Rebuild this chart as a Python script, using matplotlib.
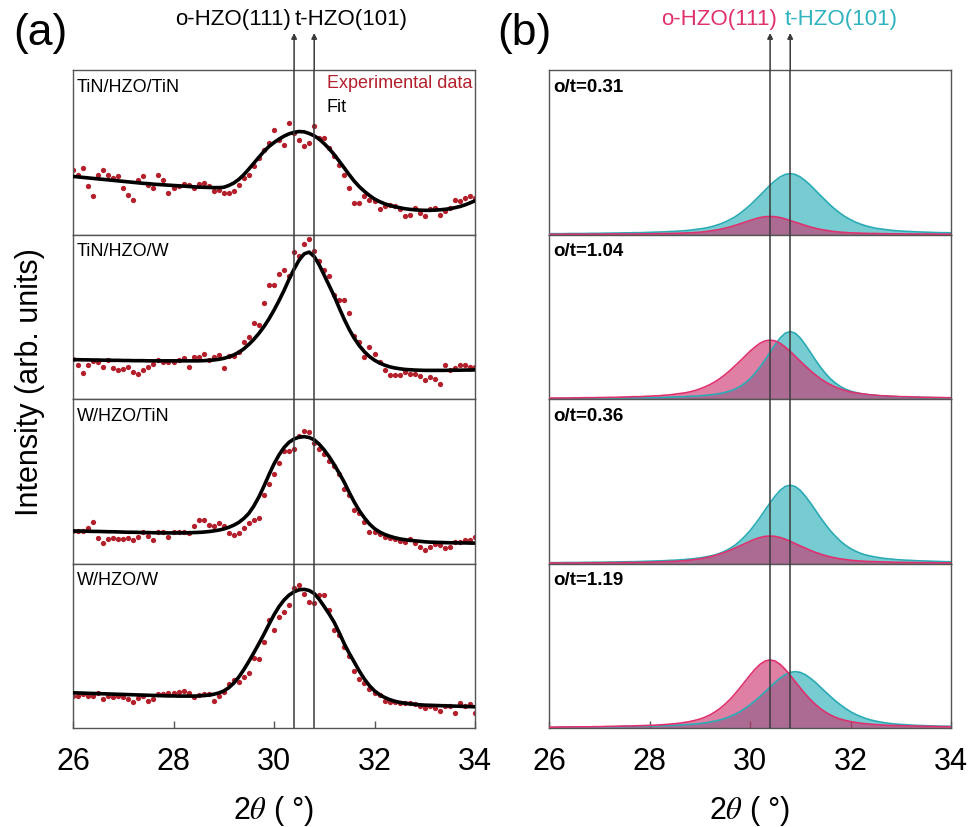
import numpy as np
import matplotlib.pyplot as plt

# scan grid, 26-34 deg in 0.1 deg steps
two_theta = np.round(np.linspace(26.0, 34.0, 81), 1)

samples = ['TiN/HZO/TiN', 'TiN/HZO/W', 'W/HZO/TiN', 'W/HZO/W']
ratio_labels = ['o/t=0.31', 'o/t=1.04', 'o/t=0.36', 'o/t=1.19']
o_peak_pos = 30.4
t_peak_pos = 30.8

# (a) experimental points (fraction of sub-panel height)
exp_tin_tin = [.394, .364, .404, .293, .234, .364, .394, .364, .343, .354,
               .283, .242, .212, .330, .354, .303, .283, .364, .333, .253,
               .283, .293, .309, .303, .283, .309, .313, .293, .263, .273,
               .253, .253, .263, .303, .343, .364, .414, .465, .515, .556,
               .636, .576, .545, .677, .616, .576, .535, .556, .657, .586,
               .586, .525, .475, .424, .364, .283, .192, .192, .232, .212,
               .202, .152, .172, .182, .172, .152, .111, .121, .162, .131,
               .111, .152, .162, .121, .141, .162, .212, .202, .222, .232,
               .222]
exp_tin_w = [.245, .204, .157, .204, .231, .225, .194, .235, .190, .174,
             .184, .194, .163, .153, .178, .194, .210, .235, .225, .225,
             .225, .239, .251, .194, .255, .255, .276, .239, .255, .266,
             .190, .260, .260, .286, .347, .378, .460, .450, .583, .695,
             .695, .757, .787, .747, .894, .869, .940, .971, .900, .838,
             .787, .747, .634, .603, .603, .522, .383, .347, .255, .317,
             .276, .225, .174, .143, .143, .143, .163, .153, .153, .137,
             .116, .133, .123, .092, .204, .178, .190, .204, .204, .194,
             .194]
exp_w_tin = [.198, .198, .198, .214, .251, .153, .123, .149, .157, .149,
             .149, .153, .143, .163, .190, .170, .143, .194, .190, .163,
             .194, .190, .194, .184, .225, .266, .266, .235, .225, .245,
             .225, .184, .174, .184, .214, .245, .266, .276, .419, .484,
             .542, .613, .685, .681, .695, .777, .808, .798, .730, .695,
             .665, .624, .593, .542, .450, .419, .327, .307, .255, .194,
             .194, .178, .163, .153, .147, .137, .133, .149, .123, .102,
             .082, .102, .116, .112, .092, .102, .133, .133, .143, .143,
             .163]
exp_w_w = [.194, .194, .204, .194, .194, .214, .174, .194, .188, .194,
           .190, .174, .157, .184, .194, .163, .178, .204, .204, .214,
           .214, .218, .225, .210, .190, .198, .204, .204, .163, .194,
           .218, .266, .292, .280, .313, .337, .423, .419, .522, .654,
           .593, .675, .706, .747, .849, .869, .812, .767, .757, .808,
           .808, .716, .593, .566, .490, .440, .348, .297, .272, .235,
           .210, .198, .163, .157, .157, .153, .153, .153, .143, .133,
           .123, .133, .123, .102, .133, .133, .092, .153, .133, .143,
           .092]

# (a) fitted curves
fit_tin_tin = [.353, .350, .347, .344, .341, .338, .335, .332, .329, .326,
               .323, .320, .317, .314, .311, .309, .306, .304, .302, .300,
               .298, .296, .294, .292, .290, .288, .287, .286, .285, .285,
               .287, .298, .313, .335, .364, .398, .434, .470, .505, .535,
               .559, .580, .598, .612, .621, .626, .624, .614, .600, .580,
               .552, .521, .485, .445, .404, .362, .323, .290, .262, .237,
               .216, .200, .187, .177, .169, .163, .157, .153, .150, .148,
               .147, .147, .148, .150, .153, .157, .163, .170, .180, .192,
               .205]
fit_tin_w = [.239, .239, .238, .238, .237, .237, .236, .236, .235, .235,
             .234, .234, .233, .233, .233, .232, .232, .232, .232, .232,
             .232, .232, .232, .232, .232, .232, .233, .235, .237, .241,
             .247, .256, .268, .284, .305, .332, .363, .399, .440, .487,
             .540, .598, .660, .728, .790, .845, .882, .893, .866, .815,
             .752, .688, .624, .552, .483, .421, .368, .323, .287, .258,
             .236, .219, .206, .196, .189, .184, .180, .178, .176, .175,
             .174, .174, .174, .174, .174, .175, .175, .175, .176, .176,
             .177]
fit_w_tin = [.198, .197, .197, .196, .195, .195, .194, .193, .193, .192,
             .191, .190, .190, .189, .188, .188, .187, .187, .186, .186,
             .186, .186, .186, .187, .188, .189, .191, .194, .198, .203,
             .210, .220, .233, .250, .274, .305, .350, .405, .470, .540,
             .605, .660, .705, .737, .757, .768, .771, .766, .752, .725,
             .690, .648, .600, .548, .493, .430, .372, .320, .277, .240,
             .212, .192, .177, .166, .157, .150, .145, .141, .138, .135,
             .132, .130, .129, .128, .127, .126, .126, .125, .125, .124,
             .124]
fit_w_w = [.214, .213, .212, .211, .210, .209, .208, .207, .206, .205,
           .204, .203, .202, .201, .200, .199, .198, .197, .196, .195,
           .195, .194, .194, .194, .194, .195, .197, .200, .205, .213,
           .225, .245, .273, .310, .355, .405, .458, .513, .570, .630,
           .688, .738, .778, .808, .828, .840, .843, .836, .818, .782,
           .738, .692, .641, .578, .511, .453, .399, .345, .297, .257,
           .226, .203, .186, .173, .163, .156, .151, .147, .144, .141,
           .139, .138, .137, .136, .135, .134, .133, .132, .131, .130,
           .129]

# (b) deconvoluted o-phase (111) and t-phase (101) components
o_comp_031 = [.001, .001, .001, .002, .002, .002, .002, .002, .002, .002,
              .002, .002, .003, .003, .003, .003, .003, .003, .004, .004,
              .004, .005, .005, .006, .006, .007, .008, .009, .010, .012,
              .014, .017, .021, .026, .031, .038, .046, .055, .065, .075,
              .085, .095, .103, .108, .110, .108, .103, .095, .085, .075,
              .065, .055, .046, .038, .031, .026, .021, .017, .014, .012,
              .010, .009, .008, .007, .006, .006, .005, .005, .004, .004,
              .004, .003, .003, .003, .003, .003, .003, .002, .002, .002,
              .002]
t_comp_031 = [.005, .005, .005, .005, .006, .006, .006, .006, .007, .007,
              .007, .008, .008, .009, .009, .010, .010, .011, .011, .012,
              .013, .014, .015, .016, .018, .019, .021, .023, .026, .030,
              .034, .038, .045, .053, .063, .075, .090, .107, .128, .152,
              .178, .208, .238, .269, .300, .327, .350, .365, .370, .365,
              .350, .327, .300, .269, .238, .208, .178, .152, .128, .107,
              .090, .075, .063, .053, .045, .038, .034, .030, .026, .023,
              .021, .019, .018, .016, .015, .014, .013, .012, .011, .011,
              .010]
o_comp_104 = [.005, .006, .006, .006, .006, .007, .007, .008, .008, .008,
              .009, .009, .010, .010, .011, .012, .013, .014, .014, .016,
              .017, .019, .020, .023, .025, .029, .033, .037, .043, .051,
              .061, .073, .087, .104, .124, .147, .173, .201, .230, .260,
              .290, .316, .339, .353, .358, .353, .339, .316, .290, .260,
              .230, .201, .173, .147, .124, .104, .087, .073, .061, .051,
              .043, .037, .033, .029, .025, .023, .020, .019, .017, .016,
              .014, .014, .013, .012, .011, .010, .010, .009, .009, .008,
              .008]
t_comp_104 = [.003, .003, .003, .003, .003, .004, .004, .004, .004, .004,
              .005, .005, .005, .005, .006, .006, .007, .007, .007, .008,
              .008, .009, .009, .010, .011, .012, .013, .014, .016, .017,
              .019, .022, .025, .028, .033, .040, .048, .060, .076, .097,
              .123, .156, .195, .238, .285, .330, .371, .400, .410, .400,
              .371, .330, .285, .238, .195, .156, .123, .097, .076, .060,
              .048, .040, .033, .028, .025, .022, .019, .017, .016, .014,
              .013, .012, .011, .010, .009, .009, .008, .008, .007, .007,
              .007]
o_comp_036 = [.003, .003, .003, .003, .003, .003, .003, .004, .004, .004,
              .004, .004, .005, .005, .005, .006, .006, .006, .007, .007,
              .008, .009, .010, .011, .012, .013, .015, .017, .020, .024,
              .028, .034, .040, .048, .058, .068, .080, .094, .107, .121,
              .135, .148, .158, .165, .167, .165, .158, .148, .135, .121,
              .107, .094, .080, .068, .058, .048, .040, .034, .028, .024,
              .020, .017, .015, .013, .012, .011, .010, .009, .008, .007,
              .007, .006, .006, .006, .005, .005, .005, .004, .004, .004,
              .004]
t_comp_036 = [.005, .005, .005, .006, .006, .006, .006, .007, .007, .008,
              .008, .008, .009, .009, .010, .010, .011, .011, .012, .013,
              .014, .015, .016, .017, .019, .020, .022, .024, .027, .030,
              .034, .039, .045, .052, .062, .075, .091, .111, .136, .166,
              .199, .238, .280, .325, .369, .410, .445, .468, .476, .468,
              .445, .410, .369, .325, .280, .238, .199, .166, .136, .111,
              .091, .075, .062, .052, .045, .039, .034, .030, .027, .024,
              .022, .020, .019, .017, .016, .015, .014, .013, .012, .011,
              .011]
o_comp_119 = [.005, .005, .006, .006, .006, .007, .007, .007, .007, .008,
              .008, .009, .010, .010, .011, .012, .012, .013, .014, .015,
              .016, .017, .019, .021, .023, .026, .029, .034, .039, .046,
              .054, .065, .079, .097, .118, .144, .173, .207, .244, .282,
              .321, .357, .387, .407, .414, .407, .387, .357, .321, .282,
              .244, .207, .173, .144, .118, .097, .079, .065, .054, .046,
              .039, .034, .029, .026, .023, .021, .019, .017, .016, .015,
              .014, .013, .012, .012, .011, .010, .010, .009, .008, .008,
              .007]
t_comp_119 = [.004, .004, .004, .005, .005, .005, .005, .005, .006, .006,
              .007, .007, .007, .008, .008, .009, .009, .010, .010, .011,
              .011, .012, .013, .014, .015, .016, .018, .020, .022, .024,
              .027, .031, .036, .042, .049, .058, .070, .083, .099, .119,
              .141, .165, .192, .220, .249, .278, .303, .324, .338, .343,
              .338, .324, .303, .278, .249, .220, .192, .165, .141, .119,
              .099, .083, .070, .058, .049, .042, .036, .031, .027, .024,
              .022, .020, .018, .016, .015, .014, .013, .012, .011, .011,
              .010]

exp_sets = [exp_tin_tin, exp_tin_w, exp_w_tin, exp_w_w]
fit_sets = [fit_tin_tin, fit_tin_w, fit_w_tin, fit_w_w]
o_sets = [o_comp_031, o_comp_104, o_comp_036, o_comp_119]
t_sets = [t_comp_031, t_comp_104, t_comp_036, t_comp_119]

plt.rcParams['font.family'] = ['Liberation Sans', 'DejaVu Sans']
plt.rcParams['mathtext.fontset'] = 'stix'

red = '#b3202c'
pink_line, pink_fill = '#e0306e', '#cd306d'
teal_line, teal_fill = '#2aaab5', '#5ec4c9'
frame = '#555555'
guide = '#3a3a3a'

W, H = 971, 827
fig = plt.figure(figsize=(W / 100, H / 100), dpi=100)

top_px, bot_px = 70, 728
sub_h = (bot_px - top_px) / 4


def make_column(left_px):
    axs = []
    for k in range(4):
        y0 = 1 - (top_px + (k + 1) * sub_h) / H
        ax = fig.add_axes([left_px / W, y0, 402 / W, sub_h / H])
        ax.set_xlim(26, 34)
        ax.set_ylim(0, 1)
        ax.set_yticks([])
        ax.set_xticks([26, 28, 30, 32, 34])
        for s in ax.spines.values():
            s.set_color(frame)
            s.set_linewidth(1.0)
        if k < 3:
            ax.tick_params(bottom=False, labelbottom=False)
        else:
            ax.tick_params(direction='in', length=5, width=1, color=frame,
                           labelsize=22, pad=14)
            ax.set_xlabel('2$\\theta$ ( °)', fontsize=22, labelpad=12)
        ax.axvline(o_peak_pos, color=guide, lw=1.1, zorder=5)
        ax.axvline(t_peak_pos, color=guide, lw=1.1, zorder=5)
        axs.append(ax)
    # arrows above the top sub-panel
    tip = 1 + (top_px - 33) / sub_h
    for xp in (o_peak_pos, t_peak_pos):
        axs[0].annotate('', xy=(xp, tip), xytext=(xp, 1.0),
                        xycoords=('data', 'axes fraction'),
                        textcoords=('data', 'axes fraction'),
                        arrowprops=dict(arrowstyle='-|>', color=guide, lw=1.1,
                                        mutation_scale=8, shrinkA=0, shrinkB=0))
    return axs


axes_a = make_column(73)
axes_b = make_column(549)

# panel (a)
for ax, name, pts, fit in zip(axes_a, samples, exp_sets, fit_sets):
    ax.plot(two_theta, pts, 'o', ms=3.8, color=red, mec='none', zorder=2)
    ax.plot(two_theta, fit, color='black', lw=2.6, zorder=3)
    ax.text(0.01, 0.895, name, transform=ax.transAxes, fontsize=13,
            ha='left', va='center')

axes_a[0].text(31.05, 0.92, 'Experimental data', color=red, fontsize=13,
               ha='left', va='center')
axes_a[0].text(31.05, 0.775, 'Fit', color='black', fontsize=13,
               ha='left', va='center')

lab_y = 1 + (top_px - 25) / sub_h
axes_a[0].text(30.33, lab_y, 'o-HZO(111)', fontsize=16,
               ha='right', va='baseline')
axes_a[0].text(30.42, lab_y, 't-HZO(101)', fontsize=16,
               ha='left', va='baseline')

# panel (b)
for ax, lab, o_c, t_c in zip(axes_b, ratio_labels, o_sets, t_sets):
    ax.fill_between(two_theta, 0, t_c, color=teal_fill, alpha=0.85, lw=0, zorder=1)
    ax.fill_between(two_theta, 0, o_c, color=pink_fill, alpha=0.62, lw=0, zorder=2)
    ax.plot(two_theta, t_c, color=teal_line, lw=1.2, zorder=3)
    ax.plot(two_theta, o_c, color=pink_line, lw=1.2, zorder=4)
    ax.text(0.01, 0.895, lab, transform=ax.transAxes, fontsize=13.5,
            fontweight='bold', ha='left', va='center')

axes_b[0].text(30.54, lab_y, 'o-HZO(111)', color=pink_line, fontsize=16,
               ha='right', va='baseline')
axes_b[0].text(30.69, lab_y, 't-HZO(101)', color='#2fb3bf', fontsize=16,
               ha='left', va='baseline')

fig.text(13 / W, 1 - 33 / H, '(a)', fontsize=32, ha='left', va='center')
fig.text(497 / W, 1 - 33 / H, '(b)', fontsize=32, ha='left', va='center')
fig.text(30 / W, 1 - 382 / H, 'Intensity (arb. units)', fontsize=22,
         rotation=90, ha='center', va='center')

fig.savefig('out.png', dpi=100)
